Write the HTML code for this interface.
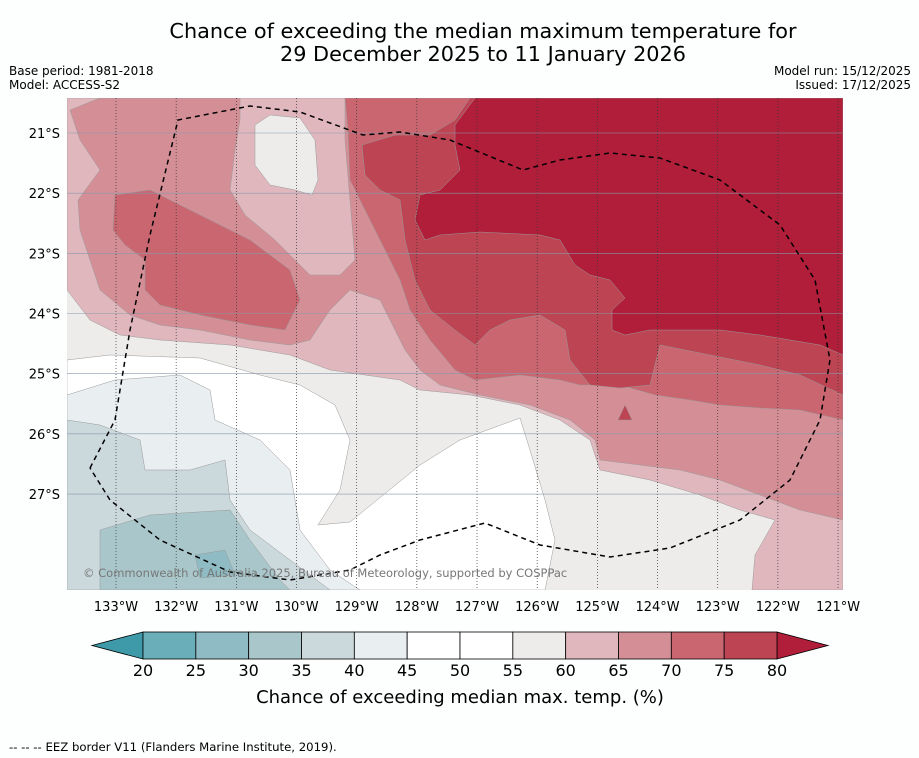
<!DOCTYPE html>
<html><head><meta charset="utf-8"><style>
body{margin:0;background:#fdfefe;font-family:"DejaVu Sans",sans-serif}
svg{display:block}
</style></head><body>
<svg width="919" height="758" font-family="DejaVu Sans, sans-serif">
<rect width="919" height="758" fill="#fdfefe"/>
<text x="483" y="38" font-size="20.8" text-anchor="middle">Chance of exceeding the median maximum temperature for</text>
<text x="483" y="61" font-size="20.8" text-anchor="middle">29 December 2025 to 11 January 2026</text>
<text x="9" y="75" font-size="12">Base period: 1981-2018</text>
<text x="9" y="89" font-size="12">Model: ACCESS-S2</text>
<text x="911" y="75" font-size="12" text-anchor="end">Model run: 15/12/2025</text>
<text x="911" y="89" font-size="12" text-anchor="end">Issued: 17/12/2025</text>
<defs><clipPath id="mc"><rect x="67" y="98" width="776" height="492"/></clipPath></defs>
<g clip-path="url(#mc)" stroke="#999" stroke-width="0.5">
<rect x="67" y="98" width="776" height="492" fill="#eeeceb" stroke="none"/>
<polygon fill="#ffffff" points="67,360 110,355 200,358 260,375 300,385 335,405 350,440 340,490 318,525 350,522 420,465 460,440 520,418 530,450 545,500 555,540 545,590 67,590"/>
<polygon fill="#e9eef1" points="67,395 115,380 180,375 210,390 215,420 260,440 290,470 300,530 330,570 360,590 67,590"/>
<polygon fill="#cbd9dd" points="67,420 100,425 140,440 145,470 190,470 225,460 230,500 250,530 290,560 330,590 67,590"/>
<polygon fill="#a9c7cb" points="100,530 150,515 230,510 250,540 280,580 290,590 100,590"/>
<polygon fill="#8fbcc4" points="195,555 225,550 235,575 200,578"/>
<polygon fill="#e0b7bd" points="67,98 843,98 843,590 752,590 755,555 775,520 740,510 700,495 650,480 600,470 590,440 560,420 520,405 470,395 420,390 400,380 330,370 290,355 230,345 160,340 120,335 90,320 67,290"/>
<polygon fill="#d48e96" points="100,98 843,98 843,520 800,510 760,495 720,480 680,470 640,465 600,460 595,440 570,420 530,405 480,395 440,385 420,370 405,350 395,330 380,300 350,290 330,310 310,340 290,345 250,340 200,330 160,325 130,315 100,290 80,230 78,200 100,170 80,140 70,110"/>
<polygon fill="#e0b7bd" points="240,98 345,98 345,140 350,200 355,260 340,275 310,275 295,260 275,240 245,215 230,190 235,150 240,120"/>
<polygon fill="#eeeceb" points="255,125 270,115 300,118 315,140 318,180 312,195 295,190 270,185 255,165"/>
<polygon fill="#c96670" points="115,195 150,190 200,215 250,240 290,270 300,300 285,330 250,325 200,315 160,305 145,290 145,260 125,245 113,230"/>
<polygon fill="#c96670" points="345,98 843,98 843,420 800,410 760,408 720,405 690,400 655,395 620,385 580,385 560,380 520,375 475,380 455,370 430,340 410,310 400,280 385,250 370,220 350,180 348,130"/>
<polygon fill="#bd4452" points="362,145 395,135 430,135 455,120 470,98 843,98 843,395 800,375 760,365 710,355 660,345 650,385 620,388 590,385 570,360 565,330 540,315 510,320 490,330 475,345 455,330 430,310 415,280 405,240 400,200 380,190 365,175"/>
<polygon fill="#bd4452" points="618,420 625,405 632,420"/>
<polygon fill="#b01e3a" points="455,125 475,98 843,98 843,355 820,345 790,340 760,335 720,330 680,330 650,330 625,335 612,330 612,310 625,298 610,280 590,275 575,265 560,240 540,235 480,232 440,235 425,240 415,220 420,195 440,190 460,170 455,145"/>
</g>
<g id="grid"></g>
<polyline fill="none" stroke="#000" stroke-width="1.5" stroke-dasharray="5,4" points="90,468 115,420 130,330 150,235 178,120 250,106 300,112 363,135 400,132 450,140 523,170 560,160 610,153 660,158 720,180 780,225 815,280 830,360 820,420 790,480 740,520 670,548 610,557 540,545 485,523 420,540 380,555 350,570 290,580 230,572 160,540 110,500 90,468"/>
<text x="83" y="577" font-size="11.5" fill="#777">© Commonwealth of Australia 2025, Bureau of Meteorology, supported by COSPPac</text>
<g id="ticks"></g>
<g id="cbar"></g>
<text x="460" y="703" font-size="18" text-anchor="middle">Chance of exceeding median max. temp. (%)</text>
<text x="9" y="751" font-size="11.7">--  --  -- EEZ border V11 (Flanders Marine Institute, 2019).</text>
</svg>
<script>
const lonTicks=[133,132,131,130,129,128,127,126,125,124,123,122,121];
const latTicks=[21,22,23,24,25,26,27];
const levels=[20,25,30,35,40,45,50,55,60,65,70,75,80];
const levelColors=["#6aaeb9","#8fbcc4","#a9c7cb","#cbd9dd","#e9eef1","#ffffff","#ffffff","#eeeceb","#e0b7bd","#d48e96","#c96670","#bd4452"];
const lowColor="#3e9aa9", highColor="#b01e3a";
const NS="http://www.w3.org/2000/svg";
const xLon=l=>116+(133-l)*60.17;
const yLat=l=>133+(l-21)*60.17;
const xLev=v=>143+(v-20)*(634/60);
function mk(tag,attrs,parent){const e=document.createElementNS(NS,tag);for(const k in attrs)e.setAttribute(k,attrs[k]);parent.appendChild(e);return e;}
const grid=document.getElementById('grid'),ticks=document.getElementById('ticks'),cb=document.getElementById('cbar');
lonTicks.forEach(l=>{
 const x=xLon(l);
 const ln=mk('line',{x1:x,x2:x,y1:98,y2:590,stroke:'#333','stroke-width':0.7,'stroke-dasharray':'1,2'},grid);
 
 
 const t=mk('text',{x:x,y:611,'font-size':13,'text-anchor':'middle'},ticks);
 t.textContent=l+'°W';
 
 
});
latTicks.forEach(l=>{
 const y=yLat(l);
 const ln=mk('line',{x1:67,x2:843,y1:y,y2:y,stroke:'#8899aa','stroke-width':0.6},grid);
 
 
 const t=mk('text',{x:60,y:y+5,'font-size':13,'text-anchor':'end'},ticks);
 t.textContent=l+'°S';
 
 
});
const cy=632,ch=27;
const lt=mk('polygon',{points:`92,${cy+ch/2} ${xLev(20)},${cy} ${xLev(20)},${cy+ch}`,fill:lowColor,stroke:'#000','stroke-width':0.8},cb);


const rt=mk('polygon',{points:`828,${cy+ch/2} ${xLev(80)},${cy} ${xLev(80)},${cy+ch}`,fill:highColor,stroke:'#000','stroke-width':0.8},cb);


for(let i=0;i<levels.length-1;i++){
 const r=mk('rect',{x:xLev(levels[i]),y:cy,width:xLev(levels[i+1])-xLev(levels[i]),height:ch,fill:levelColors[i],stroke:'#000','stroke-width':0.8},cb);
 
 
}
levels.forEach(v=>{
 const t=mk('text',{x:xLev(v),y:676,'font-size':16,'text-anchor':'middle'},cb);
 t.textContent=v;
 
 
});
</script>
</body></html>
